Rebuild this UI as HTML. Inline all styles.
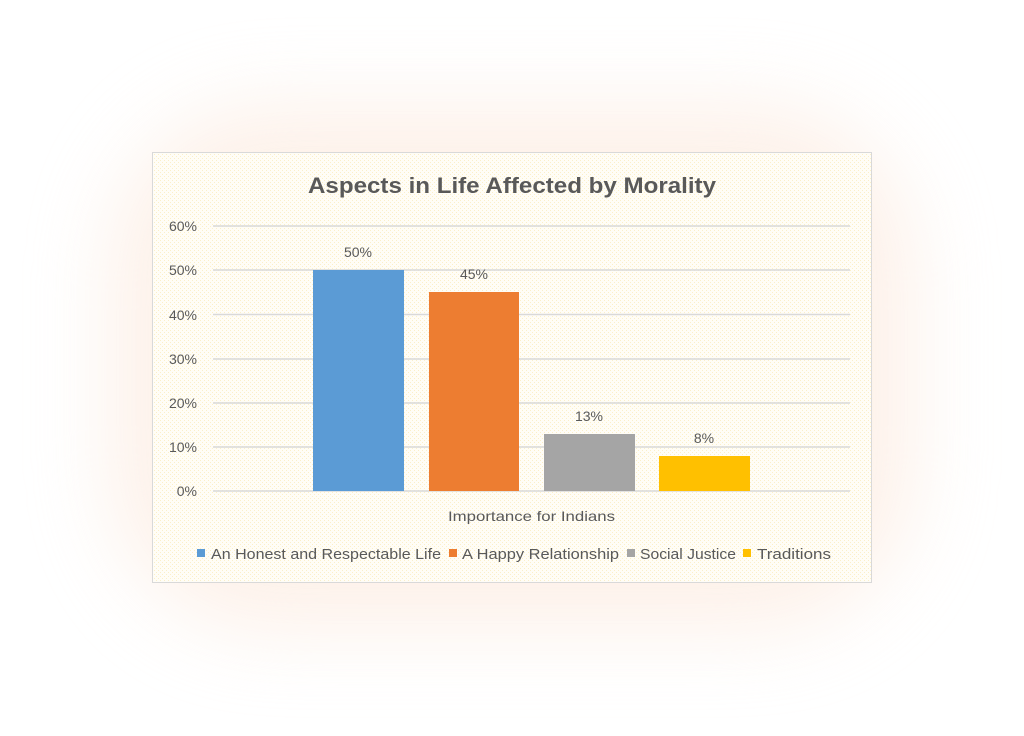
<!DOCTYPE html>
<html><head><style>
html,body{margin:0;padding:0;width:1024px;height:736px;overflow:hidden;background:#fff}
.glow{position:absolute;left:110px;top:105px;width:804px;height:525px;border-radius:160px;background:#fbe6d8;filter:blur(40px);opacity:.55}
svg{position:absolute;left:0;top:0}
text{font-family:"Liberation Sans",sans-serif;fill:#595959}
</style></head><body>
<div class="glow"></div>
<svg width="1024" height="736">
<defs><pattern id="p" width="4" height="4" patternUnits="userSpaceOnUse"><rect width="4" height="4" fill="#fffdf6"/><rect width="1" height="1" fill="#fbefc9"/><rect x="2" y="2" width="1" height="1" fill="#fbefc9"/></pattern></defs>
<rect x="152.5" y="152.5" width="719" height="430" fill="url(#p)" stroke="#d9d9d9"/>
<text x="308" y="193" font-size="22" font-weight="bold" textLength="408" lengthAdjust="spacingAndGlyphs">Aspects in Life Affected by Morality</text>
<g stroke="#d9d9d9" stroke-width="1.5">
<line x1="213" x2="850" y1="226" y2="226"/><line x1="213" x2="850" y1="270" y2="270"/><line x1="213" x2="850" y1="314.5" y2="314.5"/><line x1="213" x2="850" y1="359" y2="359"/><line x1="213" x2="850" y1="403" y2="403"/><line x1="213" x2="850" y1="447" y2="447"/><line x1="213" x2="850" y1="491" y2="491"/>
</g>
<g font-size="14" text-anchor="end">
<text x="197" y="231">60%</text><text x="197" y="275">50%</text><text x="197" y="320">40%</text><text x="197" y="364">30%</text><text x="197" y="408">20%</text><text x="197" y="452">10%</text><text x="197" y="496">0%</text>
</g>
<rect x="313" y="270" width="91" height="221" fill="#5b9bd5"/>
<rect x="429" y="292" width="90" height="199" fill="#ed7d31"/>
<rect x="544" y="434" width="91" height="57" fill="#a5a5a5"/>
<rect x="659" y="456" width="91" height="35" fill="#ffc000"/>
<g font-size="14" text-anchor="middle">
<text x="358" y="257">50%</text><text x="474" y="279">45%</text><text x="589" y="421">13%</text><text x="704" y="443">8%</text>
</g>
<text x="448" y="521" font-size="14" textLength="167" lengthAdjust="spacingAndGlyphs">Importance for Indians</text>
<g font-size="14.5">
<rect x="197" y="549" width="8" height="8" fill="#5b9bd5"/><text x="211" y="559" textLength="230" lengthAdjust="spacingAndGlyphs">An Honest and Respectable Life</text>
<rect x="449" y="549" width="8" height="8" fill="#ed7d31"/><text x="462" y="559" textLength="157" lengthAdjust="spacingAndGlyphs">A Happy Relationship</text>
<rect x="627" y="549" width="8" height="8" fill="#a5a5a5"/><text x="640" y="559" textLength="96" lengthAdjust="spacingAndGlyphs">Social Justice</text>
<rect x="743" y="549" width="8" height="8" fill="#ffc000"/><text x="757" y="559" textLength="74" lengthAdjust="spacingAndGlyphs">Traditions</text>
</g>
</svg>
</body></html>
